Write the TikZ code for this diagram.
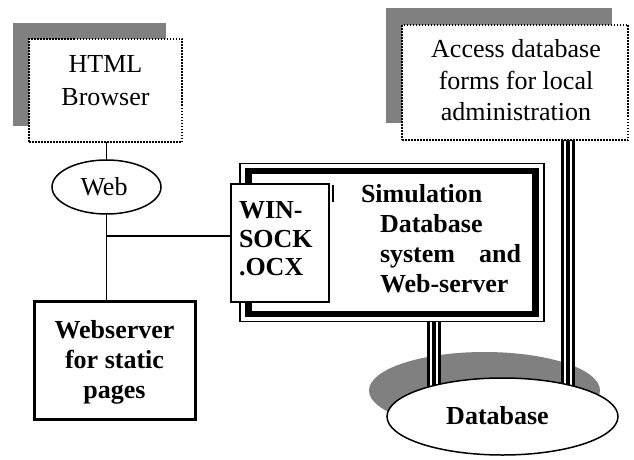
\documentclass[tikz,border=0pt]{standalone}
\usepackage{fontspec}
\setmainfont{Liberation Serif}
\usetikzlibrary{shapes.geometric}
\definecolor{shadowgray}{RGB}{128,128,128}
\pgfdeclarelayer{bg}
\pgfsetlayers{bg,main}
\begin{document}
\begin{tikzpicture}[x=1pt,y=-1pt,
  every node/.style={inner sep=0pt, outer sep=0pt},
  txt/.style={font=\fontsize{26}{30}\selectfont, anchor=base},
  btxt/.style={font=\fontsize{26}{30}\selectfont\bfseries, anchor=base},
  dotbox/.style={rectangle, draw, fill=white, line width=1.6pt, dash pattern=on 1.5pt off 1.5pt},
  conn/.style={line width=1.5pt},
  tripleline/.style={draw=black, line width=14pt,
    postaction={draw=white, line width=8.5pt},
    postaction={draw=black, line width=3.5pt}}
]
\useasboundingbox (0,0) rectangle (634,460);

% boxes
\node[dotbox, minimum width=153pt, minimum height=103pt] (html) at (105.5,90.5) {};
\node[dotbox, minimum width=226pt, minimum height=115pt] (acc) at (515,82.5) {};
\node[ellipse, draw, fill=white, line width=1.5pt, minimum width=109pt, minimum height=54pt] (web) at (106.5,187) {};
\node[rectangle, draw, fill=white, line width=3pt, minimum width=161pt, minimum height=118pt] (ws) at (114.5,360) {};
\node[rectangle, draw, line width=6.5pt, minimum width=287pt, minimum height=143pt] (sim) at (392,242.5) {};
\node[rectangle, draw, line width=1.8pt, minimum width=304pt, minimum height=158pt] (simo) at (392,242.5) {};
\node[rectangle, draw, fill=white, line width=1.8pt, minimum width=98pt, minimum height=118pt] (wsk) at (280,243) {};
\node[ellipse, draw, fill=white, line width=1.5pt, minimum width=231pt, minimum height=77pt] (db) at (502.5,416.5) {};

% texts
\node[txt] (h1) at (105.5,73) {HTML};
\node[txt] (h2) at (105.5,105) {Browser};
\node[txt] (a1) at (516,57) {Access database};
\node[txt] (a2) at (516,89) {forms for local};
\node[txt] (a3) at (516,120) {administration};
\node[txt] (w1) at (104,195) {Web};
\node[btxt] (ws1) at (114.5,338) {Webserver};
\node[btxt] (ws2) at (114.5,368) {for static};
\node[btxt] (ws3) at (114.5,398) {pages};
\node[btxt, anchor=base west] (k1) at (239,218) {WIN-};
\node[btxt, anchor=base west] (k2) at (239,247) {SOCK};
\node[btxt, anchor=base west] (k3) at (239,275) {.OCX};
\node[btxt, anchor=base west] (s1) at (361,202) {Simulation};
\node[btxt, anchor=base west] (s2) at (380,232) {Database};
\node[btxt, anchor=base west] (s3) at (380,262) {system};
\node[btxt, anchor=base east] (s4) at (521,262) {and};
\node[btxt, anchor=base west] (s5) at (380,292) {Web-server};
\node[btxt] (d1) at (497.5,424.5) {Database};
\draw[line width=1.3pt] (333,185) -- (333,202);

% connectors
\draw[conn] (web.north |- html.south) -- (web.north);
\draw[conn] (web.south) -- (web.south |- ws.north);
\coordinate (jy) at (0,236);
\coordinate (j) at (web.south |- jy);
\draw[conn] (j) -- (j -| wsk.west);

\coordinate (tx1) at (434,0);
\coordinate (tx2) at (568,0);
\begin{pgfonlayer}{bg}
  \fill[shadowgray] ([shift={(-16,-16)}]html.north west) rectangle ([shift={(-16,-16)}]html.south east);
  \fill[shadowgray] ([shift={(-16,-17)}]acc.north west) rectangle ([shift={(-16,-17)}]acc.south east);
  \fill[shadowgray] ([shift={(-18,-26)}]db.center) ellipse [x radius=115.5pt, y radius=38.5pt];
  \draw[tripleline] (simo.south -| tx1) -- (tx1 |- db.center);
  \draw[tripleline] (acc.south -| tx2) -- (tx2 |- db.center);
\end{pgfonlayer}
\end{tikzpicture}
\end{document}
